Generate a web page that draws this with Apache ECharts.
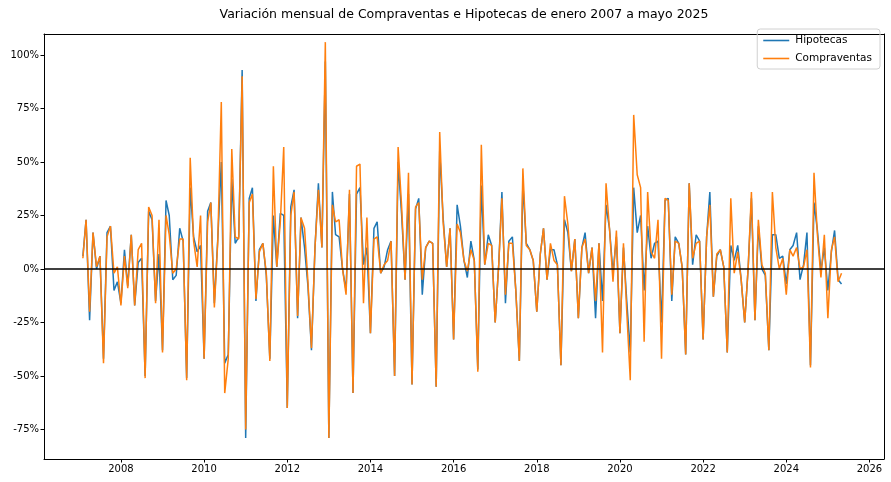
<!DOCTYPE html>
<html>
<head>
<meta charset="utf-8">
<script src="https://cdn.jsdelivr.net/npm/echarts@6/dist/echarts.min.js"></script>
<style>html,body{margin:0;padding:0;background:#fff}#c{width:891px;height:482px}</style>
</head>
<body>
<div id="c"></div>
<script>
// Monthly series starting Feb 2007, ending May 2025
const startYear = 2007;
const startMonth = 2;
const hipotecas = [
 0.06,0.23,-0.24,0.17,0.00,0.06,-0.42,0.17,0.20,-0.10,-0.06,-0.16,0.09,-0.08,0.16,-0.17,0.03,0.05,
 -0.50,0.27,0.23,-0.15,0.07,-0.38,0.32,0.25,-0.05,-0.03,0.19,0.13,-0.51,0.38,0.15,0.08,0.11,-0.42,
 0.27,0.31,-0.16,0.14,0.50,-0.44,-0.40,0.42,0.12,0.15,0.93,-0.79,0.33,0.38,-0.15,0.09,0.12,-0.03,
 -0.42,0.25,0.01,0.26,0.25,-0.65,0.29,0.37,-0.23,0.24,0.10,-0.08,-0.38,0.10,0.40,0.10,0.97,-0.79,
 0.36,0.16,0.15,0.00,-0.10,0.35,-0.58,0.35,0.38,0.02,0.10,-0.30,0.19,0.22,-0.02,0.01,0.09,0.13,
 -0.50,0.50,0.26,-0.05,0.35,-0.54,0.28,0.33,-0.12,0.10,0.13,0.12,-0.55,0.55,0.24,0.01,0.19,-0.33,
 0.30,0.20,0.04,-0.04,0.13,0.04,-0.47,0.39,0.02,0.16,0.11,-0.25,0.02,0.36,-0.16,0.13,0.15,-0.10,
 -0.43,0.40,0.12,0.09,0.04,-0.20,0.07,0.19,-0.05,0.09,0.09,0.02,-0.45,0.23,0.17,-0.01,0.14,-0.23,
 0.10,0.17,-0.02,0.10,-0.23,0.12,-0.15,0.30,0.19,-0.02,0.15,-0.30,0.10,-0.15,-0.39,0.38,0.17,0.25,
 -0.10,0.20,0.05,0.12,0.13,-0.25,0.32,0.33,-0.15,0.15,0.12,0.01,-0.40,0.40,0.02,0.16,0.13,-0.33,
 0.15,0.36,-0.13,0.06,0.09,0.01,-0.39,0.11,0.04,0.11,-0.05,-0.25,0.01,0.33,-0.24,0.20,0.00,-0.03,
 -0.38,0.16,0.16,0.05,0.06,-0.07,0.09,0.11,0.17,-0.05,0.02,0.17,-0.45,0.31,0.18,-0.01,0.10,-0.10,
 0.08,0.18,-0.05,-0.07
];
const compraventas = [
 0.05,0.23,-0.20,0.17,0.01,0.06,-0.44,0.15,0.20,-0.02,0.01,-0.17,0.06,-0.09,0.16,-0.17,0.09,0.12,
 -0.51,0.29,0.25,-0.16,0.23,-0.39,0.25,0.16,-0.02,0.00,0.14,0.14,-0.52,0.52,0.13,0.01,0.25,-0.42,
 0.22,0.31,-0.18,0.13,0.78,-0.58,-0.42,0.56,0.15,0.14,0.90,-0.75,0.31,0.35,-0.14,0.08,0.12,-0.02,
 -0.43,0.48,0.01,0.22,0.57,-0.65,0.25,0.36,-0.22,0.24,0.19,-0.06,-0.37,0.10,0.37,0.10,1.06,-0.79,
 0.30,0.22,0.23,0.00,-0.12,0.37,-0.58,0.48,0.49,-0.16,0.24,-0.30,0.14,0.15,-0.02,0.02,0.04,0.13,
 -0.50,0.57,0.30,-0.05,0.45,-0.54,0.29,0.31,-0.05,0.10,0.13,0.12,-0.55,0.64,0.22,0.01,0.19,-0.33,
 0.21,0.17,0.04,-0.01,0.09,0.04,-0.48,0.58,0.02,0.12,0.11,-0.25,0.02,0.33,-0.12,0.12,0.12,-0.10,
 -0.43,0.47,0.11,0.09,0.04,-0.20,0.07,0.19,-0.05,0.12,0.04,0.02,-0.45,0.34,0.21,-0.01,0.14,-0.23,
 0.10,0.14,-0.02,0.10,-0.15,0.12,-0.39,0.40,0.19,-0.06,0.18,-0.30,0.12,-0.20,-0.52,0.72,0.44,0.38,
 -0.34,0.36,0.08,0.05,0.23,-0.42,0.33,0.32,-0.12,0.13,0.12,0.01,-0.40,0.40,0.05,0.12,0.13,-0.33,
 0.15,0.30,-0.13,0.07,0.09,0.01,-0.39,0.33,-0.02,0.08,-0.05,-0.25,0.01,0.36,-0.24,0.23,0.02,-0.02,
 -0.38,0.36,0.10,0.00,0.05,-0.12,0.09,0.06,0.10,0.00,0.01,0.09,-0.46,0.45,0.16,-0.04,0.16,-0.23,
 0.09,0.15,-0.06,-0.02
];
const xTickYears = [2008,2010,2012,2014,2016,2018,2020,2022,2024,2026];
const yTickValues = [-0.75,-0.5,-0.25,0,0.25,0.5,0.75,1.0];
const titleText = 'Variación mensual de Compraventas e Hipotecas de enero 2007 a mayo 2025';

function monthX(i) {
  const m0 = (startMonth - 1) + i;
  const y = startYear + Math.floor(m0 / 12);
  const m = m0 % 12;
  const d0 = Date.UTC(y, 0, 1), d1 = Date.UTC(y + 1, 0, 1), d = Date.UTC(y, m, 1);
  return y + (d - d0) / (d1 - d0);
}
const toPairs = arr => arr.map((v, i) => [monthX(i), v]);

const font = 'DejaVu Sans';
const X_MIN = 2006.15, X_MAX = 2026.35, Y_MIN = -0.888, Y_MAX = 1.098;
const chart = echarts.init(document.getElementById('c'), null, {renderer: 'canvas'});
chart.setOption({
  animation: false,
  backgroundColor: '#fff',
  textStyle: {fontFamily: font},
  title: {
    text: titleText, left: 459, top: 3, textAlign: 'center',
    textStyle: {fontFamily: font, fontSize: 12.5, fontWeight: 'normal', color: '#000'}
  },
  legend: {
    data: ['Hipotecas', 'Compraventas'],
    orient: 'vertical', right: 11, top: 29,
    icon: 'rect', itemWidth: 26, itemHeight: 1.6, itemGap: 7,
    borderColor: '#d0d0d0', borderWidth: 1, borderRadius: 3,
    padding: [6, 8, 5, 6],
    textStyle: {fontFamily: font, fontSize: 10.5, color: '#000', padding: [0, 0, 0, 1]}
  },
  grid: {left: 44, right: 7, top: 34, bottom: 23},
  xAxis: [{
    type: 'value', min: X_MIN, max: X_MAX,
    axisLine: {show: true, onZero: false, lineStyle: {color: '#000'}},
    splitLine: {show: false},
    axisTick: {show: true, length: 3.5, customValues: xTickYears, lineStyle: {color: '#000'}},
    axisLabel: {customValues: xTickYears, color: '#000', fontFamily: font, fontSize: 10, margin: 5, formatter: v => String(v)}
  }, {
    type: 'value', min: X_MIN, max: X_MAX, position: 'top',
    axisLine: {show: true, onZero: false, lineStyle: {color: '#000'}},
    splitLine: {show: false}, axisTick: {show: false}, axisLabel: {show: false}
  }],
  yAxis: [{
    type: 'value', min: Y_MIN, max: Y_MAX,
    axisLine: {show: true, onZero: false, lineStyle: {color: '#000'}},
    splitLine: {show: false},
    axisTick: {show: true, length: 3.5, customValues: yTickValues, lineStyle: {color: '#000'}},
    axisLabel: {customValues: yTickValues, color: '#000', fontFamily: font, fontSize: 10, margin: 5,
      formatter: v => Math.round(v * 100) + '%'}
  }, {
    type: 'value', min: Y_MIN, max: Y_MAX, position: 'right',
    axisLine: {show: true, onZero: false, lineStyle: {color: '#000'}},
    splitLine: {show: false}, axisTick: {show: false}, axisLabel: {show: false}
  }],
  series: [
    {
      name: 'Hipotecas', type: 'line', data: toPairs(hipotecas),
      symbol: 'none', lineStyle: {color: '#1f77b4', width: 1.5}, itemStyle: {color: '#1f77b4'}, z: 2,
      markLine: {
        silent: true, symbol: 'none', label: {show: false},
        lineStyle: {color: '#000', width: 1.5, type: 'solid'},
        data: [{yAxis: 0}]
      }
    },
    {
      name: 'Compraventas', type: 'line', data: toPairs(compraventas),
      symbol: 'none', lineStyle: {color: '#ff7f0e', width: 1.5}, itemStyle: {color: '#ff7f0e'}, z: 3
    }
  ]
});
</script>
</body>
</html>
